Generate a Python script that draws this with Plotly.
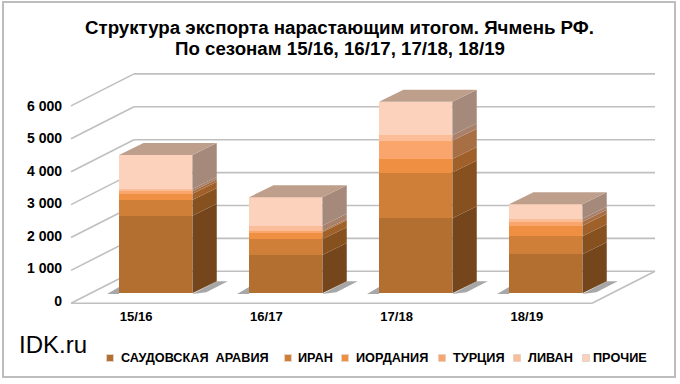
import plotly.graph_objects as go

# ---------- data ----------
categories = ["15/16", "16/17", "17/18", "18/19"]
series_names = ["САУДОВСКАЯ  АРАВИЯ", "ИРАН", "ИОРДАНИЯ", "ТУРЦИЯ", "ЛИВАН", "ПРОЧИЕ"]
saudi = [2359, 1164, 2280, 1185]
iran = [477, 477, 1388, 547]
jordan = [191, 213, 415, 322]
turkey = [76, 40, 557, 122]
lebanon = [66, 161, 162, 91]
other = [1033, 863, 1023, 438]
tick_values = [0, 1000, 2000, 3000, 4000, 5000, 6000]
tick_labels = ["0", "1 000", "2 000", "3 000", "4 000", "5 000", "6 000"]
title_lines = ["Структура экспорта нарастающим итогом. Ячмень РФ.",
               "По сезонам 15/16, 16/17, 17/18, 18/19"]
values = [saudi, iran, jordan, turkey, lebanon, other]

# ---------- style ----------
W, H = 680, 384
front = ["#B36F2F", "#D07F38", "#EE8F42", "#F9A56C", "#FBBD98", "#FCD2BC"]
side = ["#75461C", "#87511F", "#A0602A", "#A86F45", "#A9816A", "#A58A7C"]
top_color = "#BD9F8C"
grid_color = "#BFBFBF"
font = "Liberation Sans, Arial, sans-serif"

PX_X = 130.0          # pixels per category
PX_Y = 0.0329         # pixels per unit of value
X0_PX, Y0_PX = 155.7, 293.3   # first bar centre, bar base
BAR = 73.3 / PX_X
DX, DY = 24.4 / PX_X, 12 / PX_Y   # bar depth


def xd(px):
    return (px - X0_PX) / PX_X


def yd(px):
    return (Y0_PX - px) / PX_Y


fig = go.Figure()

# ground shadows
for i in range(len(categories)):
    l, r = i - BAR / 2, i + BAR / 2
    fig.add_trace(go.Scatter(
        x=[l - 12 / PX_X, l, l, None, r, r + DX, r + DX + 11 / PX_X, r + 14 / PX_X],
        y=[-20, -20, 190, None, -20, DY, DY, 30],
        mode="lines", line=dict(width=0), fill="toself",
        fillcolor="rgba(95,95,95,0.55)", hoverinfo="skip", showlegend=False))

# stacked front faces
for name, vals, col in zip(series_names, values, front):
    fig.add_trace(go.Bar(x=list(range(len(categories))), y=vals, name=name,
                         width=BAR, marker=dict(color=col, line=dict(width=0)),
                         showlegend=False))

# side faces and top faces, derived from the stacked values
for i in range(len(categories)):
    l, r = i - BAR / 2, i + BAR / 2
    base = 0
    for vals, col in zip(values, side):
        t = base + vals[i]
        fig.add_trace(go.Scatter(
            x=[r, r + DX, r + DX, r, r], y=[base, base + DY, t + DY, t, base],
            mode="lines", line=dict(width=0), fill="toself", fillcolor=col,
            hoverinfo="skip", showlegend=False))
        base = t
    fig.add_trace(go.Scatter(
        x=[l, l + DX, r + DX, r, l], y=[base, base + DY, base + DY, base, base],
        mode="lines", line=dict(width=0), fill="toself", fillcolor=top_color,
        hoverinfo="skip", showlegend=False))

# invisible trace carrying the labelled front axes
fig.add_trace(go.Scatter(x=categories, y=[0, 0, 0, 0], xaxis="x2", yaxis="y2",
                         mode="markers", marker=dict(opacity=0), hoverinfo="skip",
                         showlegend=False))

# walls, floor and grid lines
shapes = []
lw = dict(color=grid_color, width=1.6)
FX, BX, RFX, RBX = xd(71), xd(134), xd(592), xd(655)
for v in tick_values[1:]:
    shapes.append(dict(type="line", xref="x", yref="y", layer="below", line=lw,
                       x0=FX, y0=yd(303.3) + v, x1=BX, y1=yd(271.3) + v))
    shapes.append(dict(type="line", xref="x", yref="y", layer="below", line=lw,
                       x0=BX, y0=yd(271.3) + v, x1=RBX, y1=yd(271.3) + v))
for a, b, c, d in [(FX, yd(303.3), BX, yd(271.3)), (BX, yd(271.3), RBX, yd(271.3)),
                   (FX, yd(303.3), RFX, yd(303.3)), (RFX, yd(303.3), RBX, yd(271.3))]:
    shapes.append(dict(type="line", xref="x", yref="y", layer="below", line=lw,
                       x0=a, y0=b, x1=c, y1=d))
# outer frame
shapes.append(dict(type="rect", xref="paper", yref="paper", layer="below",
                   x0=3 / W, x1=675 / W, y0=1 - 377 / H, y1=1 - 2 / H,
                   line=dict(color="#BDBDBD", width=2)))

# legend keys and labels
key_x = [110, 288, 345, 442, 517, 586]
text_x = [120, 297, 355, 452, 527, 592]
annotations = []
for kx, tx, name, col in zip(key_x, text_x, series_names, front):
    shapes.append(dict(type="rect", xref="paper", yref="paper",
                       x0=(kx - 3.5) / W, x1=(kx + 3.5) / W,
                       y0=1 - 361.5 / H, y1=1 - 354.5 / H,
                       fillcolor=col, line=dict(color="#E4D3C6", width=1)))
    annotations.append(dict(xref="paper", yref="paper", x=tx / W, y=1 - 358 / H,
                            xanchor="left", yanchor="middle", showarrow=False,
                            xshift=-1, text=name.replace("  ", "\u00a0\u00a0"),
                            font=dict(family=font, size=12.7, color="#000", weight="bold")))

# titles and logo
for line, y in zip(title_lines, [27, 48]):
    annotations.append(dict(xref="paper", yref="paper", x=339.5 / W, y=1 - y / H,
                            xanchor="center", yanchor="middle", showarrow=False, text=line,
                            font=dict(family=font, size=18.7, color="#000", weight="bold")))
annotations.append(dict(xref="paper", yref="paper", x=17 / W, y=1 - 344 / H,
                        xanchor="left", yanchor="middle", showarrow=False, text="IDK.ru",
                        font=dict(family=font, size=24, color="#000")))

fig.update_layout(
    width=W, height=H, margin=dict(l=0, r=0, t=0, b=0, pad=0, autoexpand=False),
    paper_bgcolor="white", plot_bgcolor="rgba(0,0,0,0)",
    barmode="stack", bargap=0, showlegend=False, font=dict(family=font),
    xaxis=dict(domain=[0, 1], range=[xd(0), xd(W)], visible=False, fixedrange=True),
    yaxis=dict(domain=[0, 1], range=[yd(H), yd(0)], visible=False, fixedrange=True),
    xaxis2=dict(domain=[71 / W, 592 / W], anchor="y2", type="category",
                categoryorder="array", categoryarray=categories, range=[-0.5, 3.5],
                showgrid=False, showline=False, zeroline=False, ticks="", fixedrange=True,
                ticklabelstandoff=6,
                tickfont=dict(family=font, size=13, color="#000", weight="bold")),
    yaxis2=dict(domain=[1 - 301 / H, 1 - 105.7 / H], range=[0, 6000], anchor="free",
                position=62 / W, side="left",
                tickvals=tick_values, ticktext=tick_labels, showgrid=False, showline=False,
                zeroline=False, ticks="", fixedrange=True,
                tickfont=dict(family=font, size=14, color="#000", weight="bold")),
    shapes=shapes, annotations=annotations,
)
fig.write_html("out.html", config=dict(displayModeBar=False),
               post_script="document.body.style.margin='0';")
